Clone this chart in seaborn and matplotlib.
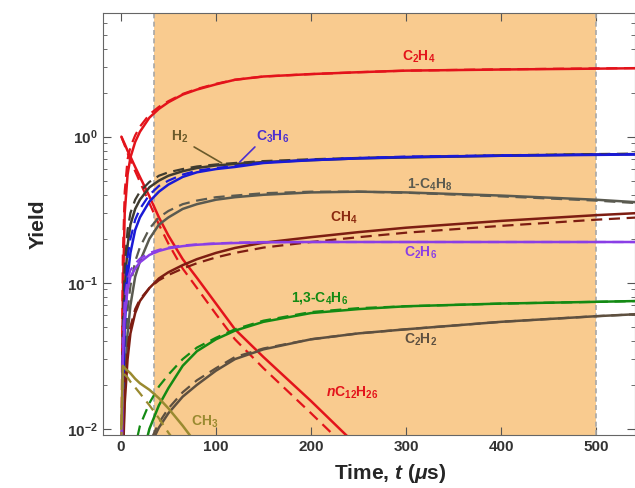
import matplotlib
matplotlib.use("Agg")
import matplotlib.pyplot as plt
import numpy as np
import seaborn as sns

# time grid (us) and yields
t = [0.5, 2, 4, 7, 10, 15, 20, 30, 40, 50, 65, 80, 100, 120, 150, 200, 250, 300, 400, 500, 545]
nan = np.nan

c2h4_solid = [0.003, 0.08, 0.3, 0.55, 0.72, 0.92, 1.08, 1.35, 1.55, 1.72, 1.94, 2.1, 2.28, 2.45, 2.58, 2.68, 2.76, 2.83, 2.88, 2.92, 2.94]
c2h4_dash = [0.006, 0.15, 0.42, 0.7, 0.85, 1.02, 1.17, 1.42, 1.6, 1.75, 1.96, 2.12, 2.3, 2.45, 2.58, 2.68, 2.76, 2.83, 2.89, 2.93, 2.95]

nc12_solid = [1.0, 0.95, 0.89, 0.8, 0.73, 0.62, 0.53, 0.39, 0.28, 0.21, 0.145, 0.108, 0.072, 0.048, 0.031, 0.0155, 0.0075, nan, nan, nan, nan]
nc12_dash = [1.0, 0.94, 0.87, 0.77, 0.69, 0.58, 0.49, 0.35, 0.25, 0.185, 0.125, 0.092, 0.061, 0.041, 0.026, 0.0128, 0.0062, nan, nan, nan, nan]

h2_solid = [0.002, 0.03, 0.09, 0.18, 0.25, 0.32, 0.37, 0.45, 0.5, 0.54, 0.58, 0.61, 0.635, 0.65, 0.67, 0.69, 0.71, 0.72, 0.74, 0.755, 0.76]
h2_dash = [0.004, 0.05, 0.13, 0.23, 0.3, 0.37, 0.42, 0.49, 0.54, 0.57, 0.6, 0.625, 0.645, 0.66, 0.68, 0.7, 0.715, 0.725, 0.745, 0.76, 0.765]

c3h6_solid = [0.001, 0.015, 0.05, 0.11, 0.16, 0.23, 0.28, 0.36, 0.42, 0.47, 0.53, 0.57, 0.6, 0.62, 0.66, 0.69, 0.71, 0.725, 0.74, 0.75, 0.755]
c3h6_dash = [0.002, 0.025, 0.075, 0.15, 0.2, 0.27, 0.32, 0.4, 0.46, 0.5, 0.55, 0.585, 0.61, 0.63, 0.665, 0.695, 0.715, 0.73, 0.745, 0.755, 0.76]

c4h8_solid = [0.0005, 0.006, 0.02, 0.045, 0.07, 0.11, 0.14, 0.2, 0.25, 0.28, 0.32, 0.345, 0.37, 0.385, 0.4, 0.415, 0.42, 0.415, 0.395, 0.37, 0.355]
c4h8_dash = [0.001, 0.01, 0.03, 0.065, 0.095, 0.14, 0.175, 0.235, 0.28, 0.31, 0.345, 0.365, 0.385, 0.395, 0.41, 0.42, 0.42, 0.413, 0.39, 0.365, 0.35]

ch4_solid = [0.0008, 0.006, 0.015, 0.03, 0.045, 0.062, 0.075, 0.092, 0.107, 0.118, 0.132, 0.145, 0.16, 0.173, 0.188, 0.205, 0.222, 0.238, 0.265, 0.29, 0.3]
ch4_dash = [0.0012, 0.008, 0.019, 0.035, 0.05, 0.066, 0.077, 0.092, 0.104, 0.113, 0.125, 0.136, 0.149, 0.16, 0.174, 0.19, 0.205, 0.22, 0.245, 0.27, 0.28]

c2h6_solid = [0.003, 0.03, 0.06, 0.09, 0.11, 0.125, 0.138, 0.155, 0.165, 0.172, 0.178, 0.182, 0.185, 0.187, 0.189, 0.19, 0.19, 0.19, 0.19, 0.19, 0.19]
c2h6_dash = [0.005, 0.04, 0.075, 0.105, 0.122, 0.135, 0.146, 0.16, 0.168, 0.174, 0.18, 0.183, 0.186, 0.188, 0.19, 0.19, 0.19, 0.19, 0.19, 0.19, 0.19]

c4h6_solid = [0.0001, 0.0002, 0.0005, 0.001, 0.0015, 0.003, 0.0055, 0.01, 0.0145, 0.019, 0.027, 0.034, 0.041, 0.047, 0.054, 0.062, 0.066, 0.069, 0.072, 0.074, 0.075]
c4h6_dash = [0.0002, 0.0006, 0.0015, 0.003, 0.005, 0.0075, 0.0105, 0.015, 0.0195, 0.0235, 0.03, 0.036, 0.042, 0.048, 0.055, 0.063, 0.067, 0.069, 0.072, 0.074, 0.075]

c2h2_solid = [0.00005, 0.0001, 0.0003, 0.0007, 0.0012, 0.0025, 0.004, 0.0075, 0.0102, 0.0128, 0.0166, 0.02, 0.025, 0.03, 0.035, 0.041, 0.045, 0.048, 0.054, 0.059, 0.061]
c2h2_dash = [0.00005, 0.0001, 0.0003, 0.0008, 0.0014, 0.0028, 0.0045, 0.008, 0.011, 0.0138, 0.0178, 0.0215, 0.026, 0.031, 0.0355, 0.041, 0.045, 0.048, 0.054, 0.059, 0.061]

ch3_solid = [0.01, 0.027, 0.026, 0.025, 0.024, 0.022, 0.0205, 0.0185, 0.0162, 0.0138, 0.0105, 0.0078, 0.005, nan, nan, nan, nan, nan, nan, nan, nan]
ch3_dash = [0.008, 0.024, 0.0235, 0.0225, 0.021, 0.0192, 0.0175, 0.0145, 0.0118, 0.0094, 0.007, nan, nan, nan, nan, nan, nan, nan, nan, nan, nan]

RED = "#e3131b"
curves = [
    (c2h4_solid, c2h4_dash, RED),
    (nc12_solid, nc12_dash, RED),
    (h2_solid, h2_dash, "#3f3b30"),
    (c4h8_solid, c4h8_dash, "#5a5a50"),
    (c3h6_solid, c3h6_dash, "#1a1ad6"),
    (ch4_solid, ch4_dash, "#7d1d12"),
    (c2h6_solid, c2h6_dash, "#8a3ee6"),
    (c4h6_solid, c4h6_dash, "#138a13"),
    (c2h2_solid, c2h2_dash, "#5e5040"),
    (ch3_solid, ch3_dash, "#9a8a30"),
]

sns.set_style("ticks")
plt.rcParams["font.family"] = ["Liberation Sans", "DejaVu Sans"]
plt.rcParams["font.weight"] = "bold"
plt.rcParams["mathtext.fontset"] = "custom"
plt.rcParams["mathtext.rm"] = "Liberation Sans:bold"
plt.rcParams["mathtext.it"] = "Liberation Sans:bold:italic"
plt.rcParams["mathtext.bf"] = "Liberation Sans:bold"

fig = plt.figure(figsize=(6.35, 4.88), dpi=100)
ax = fig.add_axes([0.162, 0.109, 0.838, 0.864])
ax.set_yscale("log")

# shaded window
ax.axvspan(35, 500, color="#f9cb8f", lw=0, zorder=0)
for xv in (35, 500):
    ax.axvline(xv, color="#a8a8a8", ls=(0, (3, 2)), lw=1.2, zorder=1)

for solid, dash, col in curves:
    sns.lineplot(x=t, y=solid, color=col, lw=1.8, ax=ax, zorder=3)
    sns.lineplot(x=t, y=dash, color=col, lw=1.6, ls=(0, (5, 3)), ax=ax, zorder=3)

labels = [
    (313, 3.5, r"C$_2$H$_4$", RED),
    (62, 1.0, r"H$_2$", "#6b5a2a"),
    (160, 1.0, r"C$_3$H$_6$", "#4b2fd0"),
    (325, 0.47, r"1-C$_4$H$_8$", "#5a5a50"),
    (234, 0.28, r"CH$_4$", "#8b2a10"),
    (315, 0.16, r"C$_2$H$_6$", "#8a3ee6"),
    (209, 0.079, r"1,3-C$_4$H$_6$", "#138a13"),
    (315, 0.041, r"C$_2$H$_2$", "#5e5040"),
    (243, 0.0177, r"$n$C$_{12}$H$_{26}$", RED),
    (88, 0.0112, r"CH$_3$", "#9a8a30"),
]
for x, y, txt, col in labels:
    ax.text(x, y, txt, color=col, fontsize=10, fontweight="bold", ha="center", va="center", zorder=5)

# leader lines for H2 and C3H6
ax.plot([77, 106], [0.85, 0.66], color="#6b5a2a", lw=1.2, zorder=4)
ax.plot([141, 125], [0.85, 0.67], color="#4b2fd0", lw=1.2, zorder=4)

ax.set_xlim(-19, 541)
ax.set_ylim(0.0091, 7.0)
ax.set_xticks([0, 100, 200, 300, 400, 500])
ax.tick_params(which="both", direction="in", top=True, right=True, colors="#555555",
               labelcolor="#333333", labelsize=11)
ax.tick_params(which="major", length=6)
ax.tick_params(which="minor", length=3)
for lab in ax.get_xticklabels() + ax.get_yticklabels():
    lab.set_fontweight("bold")
for sp in ax.spines.values():
    sp.set_color("#666666")

ax.set_ylabel("Yield", fontsize=15, fontweight="bold", labelpad=14)
ax.set_xlabel(r"Time, $t$ ($\mu$s)", fontsize=15, fontweight="bold")
ax.xaxis.set_label_coords(0.54, -0.065)

fig.savefig("out.png", dpi=100)
